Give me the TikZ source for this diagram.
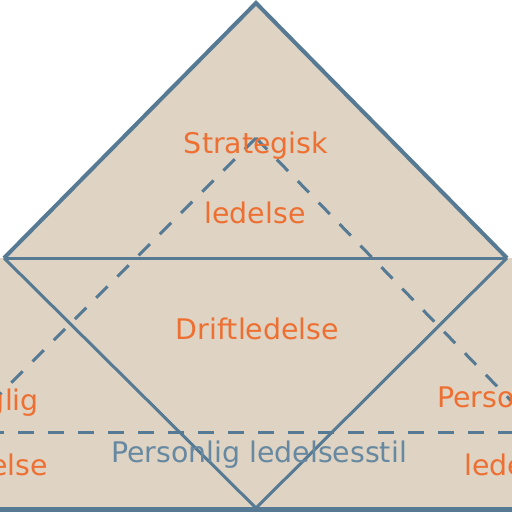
\documentclass[tikz,border=0pt]{standalone}
\usepackage{fontspec}
\setmainfont{DejaVu Sans}
\definecolor{beige}{RGB}{223,211,195}
\definecolor{edge}{RGB}{86,122,148}
\definecolor{orng}{RGB}{237,112,50}
\definecolor{bluetxt}{RGB}{102,136,160}
\tikzset{
  solidline/.style={draw=edge, line width=3pt, line join=miter},
  outerline/.style={draw=edge, line width=4pt, line join=miter},
  dashline/.style={draw=edge, line width=3pt, dash pattern=on 16pt off 14pt},
  otext/.style={text=orng, inner sep=0pt, font=\fontsize{28.4}{30}\selectfont},
  btext/.style={text=bluetxt, inner sep=0pt, font=\fontsize{28.4}{30}\selectfont}
}
\begin{document}
\begin{tikzpicture}[x=1pt,y=-1pt]
\useasboundingbox (0,0) rectangle (512,512);
\clip (0,0) rectangle (512,512);
\coordinate (L) at (4,258);
\coordinate (T) at (256,3);
\coordinate (R) at (507,258);
\coordinate (B) at (256,508);
\coordinate (D) at (256,138);
\coordinate (DL) at (-120,514);
\coordinate (DR) at (620,513);
\coordinate (HL) at (-12,432);
\coordinate (HR) at (530,432);
\coordinate (BL) at (-10,509.5);
\coordinate (BR) at (522,509.5);
% fills
\fill[beige] (-20,258) rectangle (532,530);
\fill[beige] (L) -- (T) -- (R) -- cycle;
% lines
\draw[outerline] (L) -- (T) -- (R);
\draw[solidline] (L) -- (R);
\draw[solidline] (L) -- (B) -- (R);
\draw[dashline] (D) -- (DL);
\draw[dashline] (D) -- (DR);
\draw[dashline] (HL) -- (HR);
\draw[draw=edge, line width=5pt] (BL) -- (BR);
% texts
\node[otext, anchor=base] (s1) at (256,153) {Strategisk};
\node[otext, anchor=base] (s2) at (255,223) {ledelse};
\node[otext, anchor=base] (d1) at (257.5,339) {Driftledelse};
\node[otext, anchor=base east] (f1) at (39,410) {Faglig};
\node[otext, anchor=base east] (f2) at (48,475) {ledelse};
\node[otext, anchor=base west] (p1) at (437,407) {Personal};
\node[otext, anchor=base west] (p2) at (464,475) {ledelse};
\node[btext, anchor=base] (pl) at (259,462) {Personlig ledelsesstil};
\end{tikzpicture}
\end{document}
